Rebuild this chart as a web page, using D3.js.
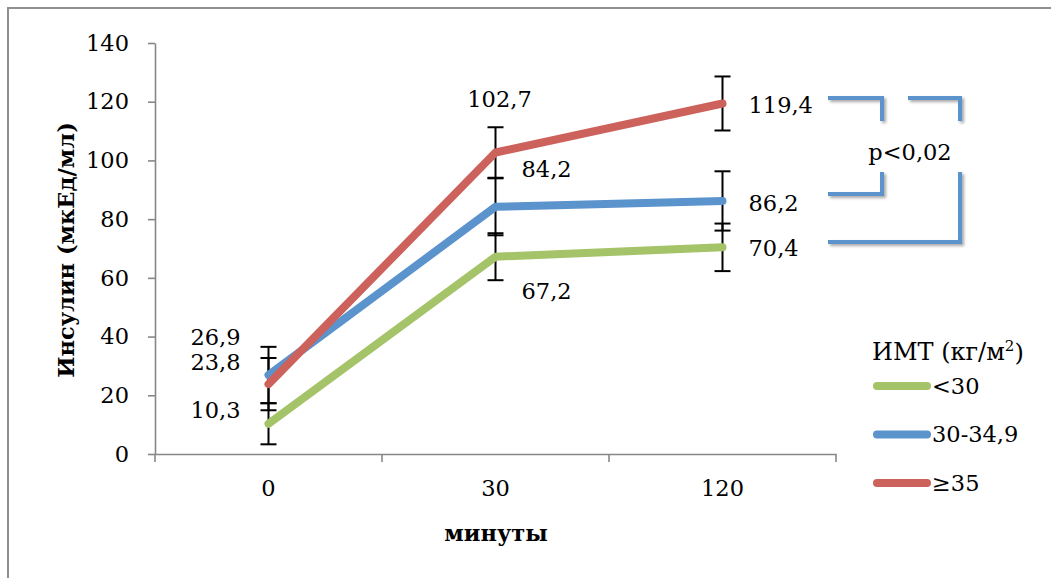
<!DOCTYPE html>
<html><head><meta charset="utf-8">
<script src="https://cdn.jsdelivr.net/npm/d3@7"></script>
<style>html,body{margin:0;padding:0;background:#fff;}svg{display:block;}</style>
</head><body>
<script>
// ---- data ----
const categories = ["0", "30", "120"];
const seriesNames = ["<30", "30-34,9", "≥35"];
const valuesLow  = [10.3, 67.2, 70.4];
const valuesMid  = [26.9, 84.2, 86.2];
const valuesHigh = [23.8, 102.7, 119.4];
const errLow  = [7.0, 8.0, 8.1];
const errMid  = [9.6, 9.7, 10.1];
const errHigh = [8.9, 8.6, 9.2];
const yTicks = [0, 20, 40, 60, 80, 100, 120, 140];
const yTitle = "Инсулин (мкЕд/мл)";
const xTitle = "минуты";
const legendTitle = "ИМТ (кг/м";
const pText = "p<0,02";

// ---- layout / style ----
const W = 1051, H = 578;
const colors = ["#a5c368", "#5b93cc", "#cd625c"];
const FONT = "'DejaVu Serif', 'Liberation Serif', serif";
const FS = 22.5;
// label placement per series per category: [anchor, dx, dy]
const labelPlace = [
  [["end", -28, -14], ["start", 26, 34], ["start", 26, 1]],
  [["end", -28, -38], ["start", 26, -38], ["start", 26, 2]],
  [["end", -28, -22], ["middle", 4, -53], ["start", 26, 2]]
];

const series = [
  {name: seriesNames[0], values: valuesLow, err: errLow, color: colors[0]},
  {name: seriesNames[1], values: valuesMid, err: errMid, color: colors[1]},
  {name: seriesNames[2], values: valuesHigh, err: errHigh, color: colors[2]}
];

const svg = d3.select("body").append("svg").attr("width", W).attr("height", H);
const defs = svg.append("defs");
const f = defs.append("filter").attr("id", "sh").attr("x", "-20%").attr("y", "-20%").attr("width", "140%").attr("height", "140%");
f.append("feDropShadow").attr("dx", 2).attr("dy", 2).attr("stdDeviation", 1.5)
  .attr("flood-color", "#000").attr("flood-opacity", 0.35);

// frame
svg.append("rect").attr("x", 8).attr("y", 8).attr("width", 1100).attr("height", 650)
  .attr("fill", "none").attr("stroke", "#8f8f8f").attr("stroke-width", 2);

const x = d3.scaleBand().domain(categories).range([155, 836]);
const cx = c => x(c) + x.bandwidth() / 2;
const y = d3.scaleLinear().domain([0, 140]).range([454, 43]);

const axisColor = "#878787";

// y axis
const gy = svg.append("g").attr("transform", "translate(155,0)")
  .call(d3.axisLeft(y).tickValues(yTicks).tickSize(7).tickSizeOuter(0).tickPadding(19).tickFormat(d3.format("d")));
gy.selectAll("path,line").attr("stroke", axisColor).attr("stroke-width", 1.6);
gy.selectAll("text").attr("font-family", FONT).attr("font-size", FS).attr("fill", "#000");

// x axis
const gx = svg.append("g").attr("transform", "translate(0,454)")
  .call(d3.axisBottom(x).tickSize(0).tickSizeOuter(0).tickPadding(26));
gx.selectAll("path").attr("stroke", axisColor).attr("stroke-width", 1.6);
gx.selectAll("text").attr("font-family", FONT).attr("font-size", FS).attr("fill", "#000");
const edges = categories.map(c => x(c)).concat([x.range()[1]]);
gx.selectAll("line.edge").data(edges).enter().append("line").attr("class", "edge")
  .attr("x1", d => d).attr("x2", d => d).attr("y1", 0).attr("y2", 8)
  .attr("stroke", axisColor).attr("stroke-width", 1.6);

// axis titles
svg.append("text").attr("transform", "translate(74,250) rotate(-90)")
  .attr("text-anchor", "middle").attr("font-family", FONT).attr("font-weight", "bold")
  .attr("font-size", 22.5).text(yTitle);
svg.append("text").attr("x", 496).attr("y", 541).attr("text-anchor", "middle")
  .attr("font-family", FONT).attr("font-weight", "bold").attr("font-size", 22.5).text(xTitle);

// error bars
const eb = svg.append("g").attr("stroke", "#000").attr("stroke-width", 2);
series.forEach(s => {
  categories.forEach((c, i) => {
    const hi = y(s.values[i] + s.err[i]), lo = y(s.values[i] - s.err[i]), xx = cx(c);
    eb.append("line").attr("x1", xx).attr("x2", xx).attr("y1", hi).attr("y2", lo);
    eb.append("line").attr("x1", xx - 8).attr("x2", xx + 8).attr("y1", hi).attr("y2", hi);
    eb.append("line").attr("x1", xx - 8).attr("x2", xx + 8).attr("y1", lo).attr("y2", lo);
  });
});

// lines
const line = d3.line().x((d, i) => cx(categories[i])).y(d => y(d));
series.forEach(s => {
  svg.append("path").datum(s.values).attr("d", line).attr("fill", "none")
    .attr("stroke", s.color).attr("stroke-width", 8)
    .attr("stroke-linecap", "round").attr("stroke-linejoin", "round");
});

// data labels
const fmt = v => String(v).replace(".", ",");
series.forEach((s, si) => {
  s.values.forEach((v, i) => {
    const p = labelPlace[si][i];
    svg.append("text").attr("x", cx(categories[i]) + p[1]).attr("y", y(v) + p[2])
      .attr("dy", "0.35em").attr("text-anchor", p[0])
      .attr("font-family", FONT).attr("font-size", FS).text(fmt(v));
  });
});

// significance brackets (annotation)
const bc = "#5b93cc";
const bg = svg.append("g").attr("fill", "none").attr("stroke", bc).attr("stroke-width", 4)
  .attr("filter", "url(#sh)");
bg.append("path").attr("d", "M828,98H882V121");
bg.append("path").attr("d", "M908,98H960V121");
bg.append("path").attr("d", "M882,172V194H828");
bg.append("path").attr("d", "M960,172V242H828");
svg.append("text").attr("x", 910).attr("y", 152).attr("dy", "0.35em").attr("text-anchor", "middle")
  .attr("font-family", FONT).attr("font-size", FS).text(pText);

// legend
const lg = svg.append("g");
const lt = lg.append("text").attr("x", 872).attr("y", 352).attr("dy", "0.35em")
  .attr("font-family", FONT).attr("font-size", 24);
lt.append("tspan").text(legendTitle);
lt.append("tspan").attr("font-size", 15).attr("dy", "-0.6em").text("2");
lt.append("tspan").attr("dy", "0.4em").text(")");
series.forEach((s, i) => {
  const yy = 386 + i * 48.5;
  lg.append("line").attr("x1", 877).attr("x2", 927).attr("y1", yy).attr("y2", yy)
    .attr("stroke", s.color).attr("stroke-width", 8).attr("stroke-linecap", "round");
  lg.append("text").attr("x", 932).attr("y", yy).attr("dy", "0.35em")
    .attr("font-family", FONT).attr("font-size", FS).text(s.name);
});
</script>
</body></html>
